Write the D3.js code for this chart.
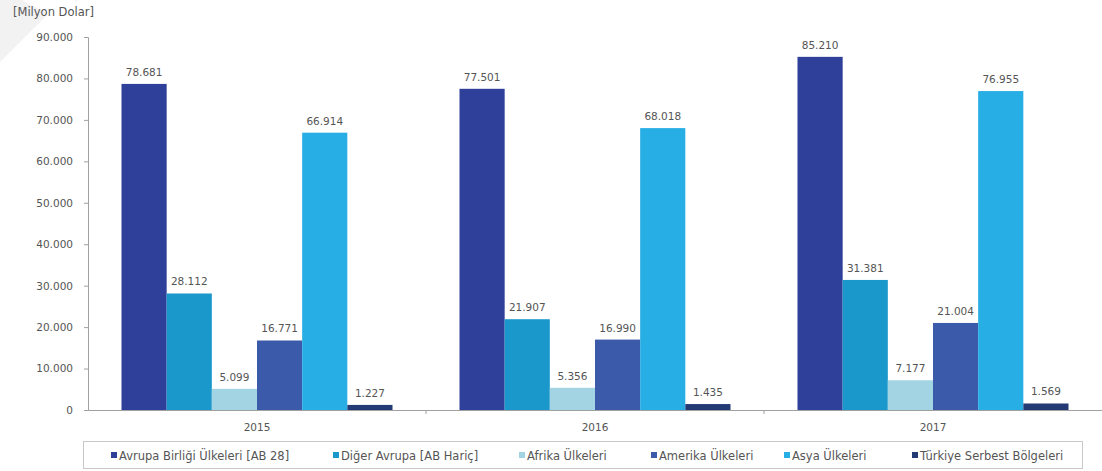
<!DOCTYPE html>
<html>
<head>
<meta charset="utf-8">
<script src="https://cdn.jsdelivr.net/npm/d3@7"></script>
<style>
  body { margin: 0; background: #fff; }
  svg { display: block; font-family: "DejaVu Sans", sans-serif; }
</style>
</head>
<body>
<svg id="chart" width="1102" height="471"></svg>
<script>
const years = ["2015", "2016", "2017"];
const seriesNames = [
  "Avrupa Birliği Ülkeleri [AB 28]",
  "Diğer Avrupa [AB Hariç]",
  "Afrika Ülkeleri",
  "Amerika Ülkeleri",
  "Asya Ülkeleri",
  "Türkiye Serbest Bölgeleri"
];
const avrupaBirligi = [78681, 77501, 85210];
const digerAvrupa = [28112, 21907, 31381];
const afrika = [5099, 5356, 7177];
const amerika = [16771, 16990, 21004];
const asya = [66914, 68018, 76955];
const turkiyeSerbest = [1227, 1435, 1569];
const yTicks = [0, 10000, 20000, 30000, 40000, 50000, 60000, 70000, 80000, 90000];
const seriesColors = ["#2f409a", "#1b98cb", "#a2d4e4", "#3b5aa9", "#27aee4", "#243a75"];
const unitLabel = "[Milyon Dolar]";

const seriesValues = [avrupaBirligi, digerAvrupa, afrika, amerika, asya, turkiyeSerbest];

const locale = d3.formatLocale({ decimal: ",", thousands: ".", grouping: [3], currency: ["", ""] });
const fmt = locale.format(",d");

const svg = d3.select("#chart");
const mLeft = 88, mRight = 1102, mTop = 37, mBottom = 410;
const textColor = "#555";

// faint background shape in top-left corner
svg.append("path").attr("d", "M0,0 L22,0 L48,14 L0,62 Z").attr("fill", "#f2f2f2");

const x0 = d3.scaleBand().domain(years).range([mLeft, mRight]).paddingInner(0).paddingOuter(0);
const groupPad = 33.5;
const x1 = d3.scaleBand().domain(d3.range(seriesNames.length))
  .range([groupPad, x0.bandwidth() - groupPad]).padding(0);
const y = d3.scaleLinear().domain([0, 90000]).range([mBottom, mTop]);

// unit label
svg.append("text").attr("x", 13).attr("y", 16)
  .attr("font-size", 11.5).attr("fill", textColor).text(unitLabel);

// y axis
const yAxis = svg.append("g").attr("transform", `translate(${mLeft},0)`)
  .call(d3.axisLeft(y).tickValues(yTicks).tickSize(4).tickPadding(11).tickFormat(d => fmt(d)));
yAxis.select(".domain").attr("stroke", "#a0a0a0");
yAxis.selectAll(".tick line").attr("stroke", "#a0a0a0");
yAxis.selectAll("text").attr("font-size", 10.5).attr("fill", textColor).attr("font-family", "DejaVu Sans, sans-serif");

// bars
const groups = svg.append("g").selectAll("g").data(years).join("g")
  .attr("transform", d => `translate(${x0(d)},0)`);

groups.each(function(yr, yi) {
  const g = d3.select(this);
  seriesValues.forEach((vals, si) => {
    const v = vals[yi];
    g.append("rect")
      .attr("x", x1(si)).attr("width", x1.bandwidth())
      .attr("y", y(v)).attr("height", y(0) - y(v))
      .attr("fill", seriesColors[si]);
    g.append("text")
      .attr("x", x1(si) + x1.bandwidth() / 2)
      .attr("y", y(v) - 8)
      .attr("text-anchor", "middle")
      .attr("font-size", 10.5).attr("fill", textColor)
      .text(fmt(v));
  });
});

// x axis
const xAxis = svg.append("g").attr("transform", `translate(0,${mBottom})`)
  .call(d3.axisBottom(x0).tickSize(0).tickPadding(14));
xAxis.select(".domain").attr("stroke", "#a0a0a0");
xAxis.selectAll("text").attr("font-size", 10.5).attr("fill", textColor).attr("font-family", "DejaVu Sans, sans-serif");
// category separators
svg.append("g").selectAll("line").data(years.slice(1)).join("line")
  .attr("x1", d => x0(d)).attr("x2", d => x0(d))
  .attr("y1", mBottom).attr("y2", mBottom + 4)
  .attr("stroke", "#a0a0a0");

// legend
const legend = svg.append("g");
legend.append("rect").attr("x", 83.5).attr("y", 441.5).attr("width", 999).attr("height", 27)
  .attr("fill", "#fff").attr("stroke", "#c8c8c8");
const legendX = [111, 333, 519, 651, 784, 912];
seriesNames.forEach((name, i) => {
  legend.append("rect").attr("x", legendX[i]).attr("y", 452).attr("width", 6).attr("height", 6)
    .attr("fill", seriesColors[i]);
  legend.append("text").attr("x", legendX[i] + 8).attr("y", 459.5)
    .attr("font-size", 11.5).attr("fill", textColor).text(name);
});
</script>
</body>
</html>
